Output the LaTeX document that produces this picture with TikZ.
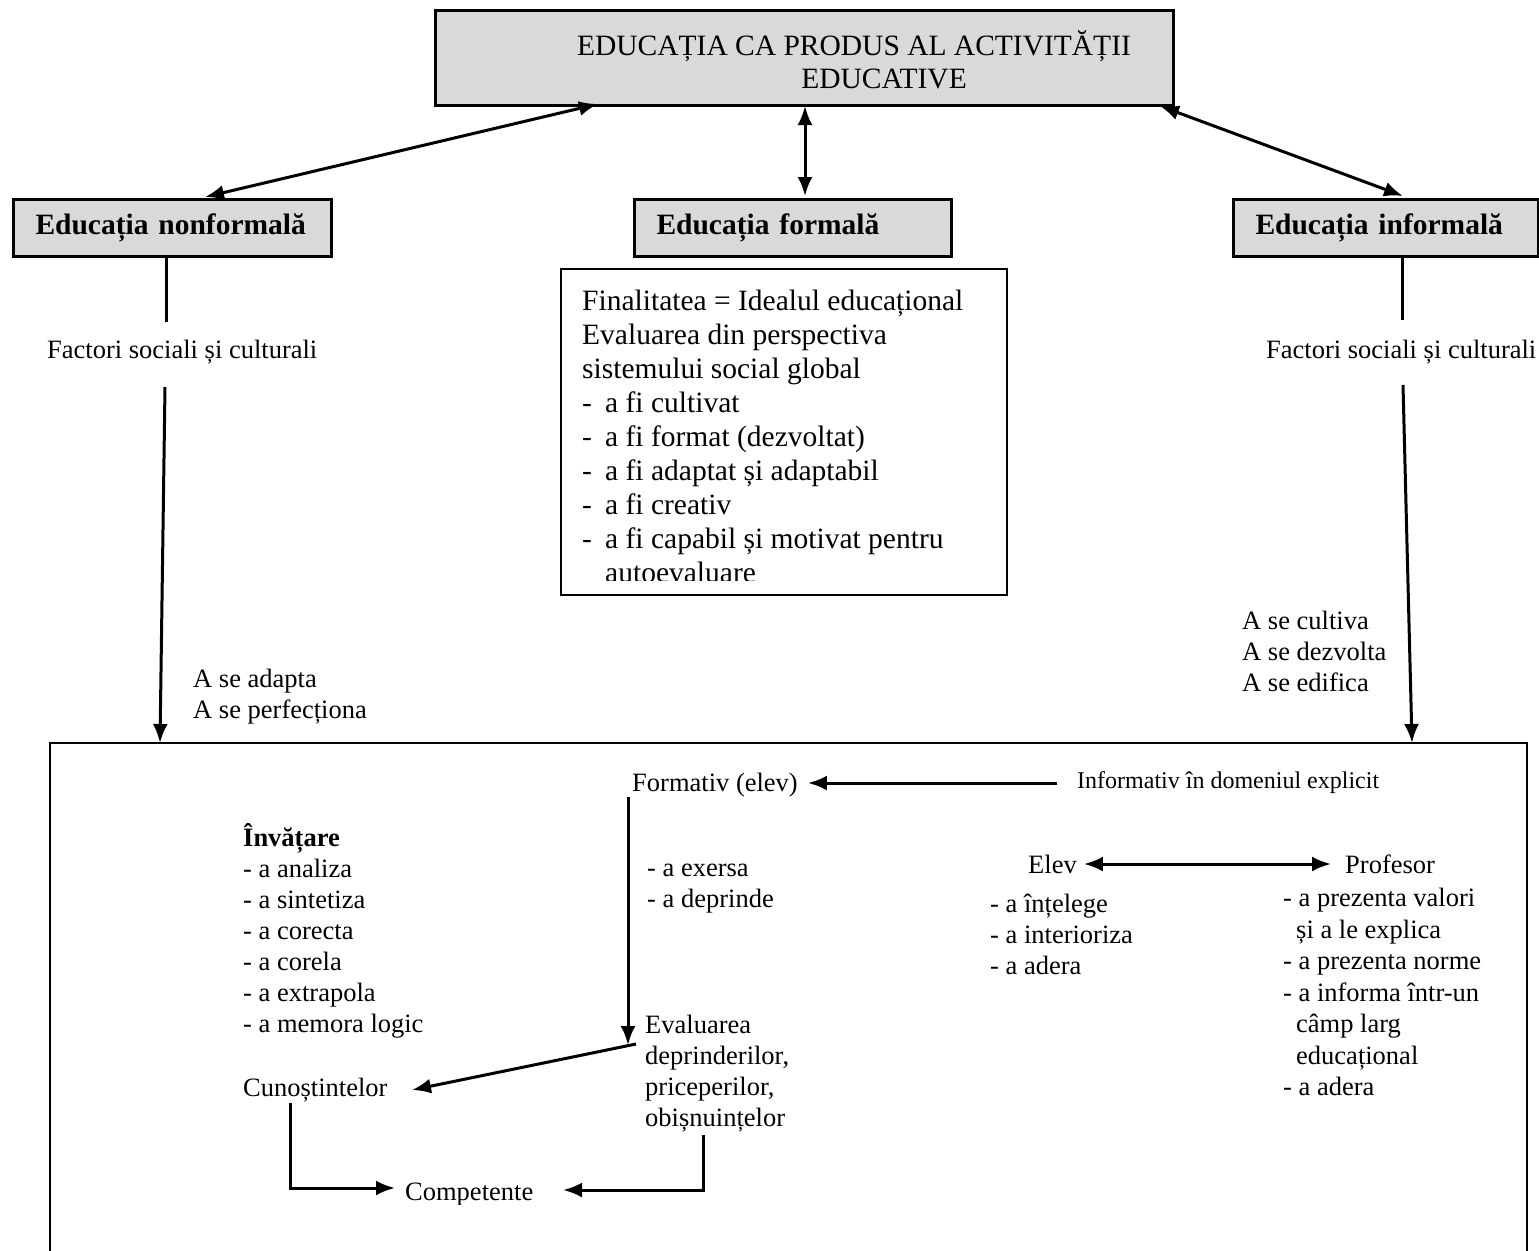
\documentclass[tikz,border=0pt]{standalone}
\usepackage{fontspec}
\setmainfont{Liberation Serif}
\usetikzlibrary{arrows.meta}
\definecolor{boxgray}{HTML}{D9D9D9}
\tikzset{
  frame/.style={draw, line width=3pt, fill=boxgray},
  lab/.style={frame, anchor=north west, minimum height=57pt, inner xsep=22pt,
    inner ysep=0pt, text width=#1, align=left,
    font=\fontsize{29.5}{34}\selectfont\bfseries},
  txt/.style={inner sep=0pt, align=left, font=\fontsize{26.5}{31}\selectfont},
  bigtxt/.style={inner sep=0pt, align=left, font=\fontsize{29.5}{34}\selectfont},
  conn/.style={line width=3pt},
  arr/.style={conn, -{Latex[length=19pt,width=15pt]}},
  darr/.style={conn, {Latex[length=19pt,width=15pt]}-{Latex[length=19pt,width=15pt]}},
}
\begin{document}
\begin{tikzpicture}[x=1pt,y=-1pt]
\useasboundingbox (0,0) rectangle (1539,1250);

% title
\node[frame, minimum width=738pt, minimum height=95pt] (title) at (804,57.5) {};
\node[inner sep=0pt, align=center, font=\fontsize{29.5}{33}\selectfont] (titletext) at (854,60)
  {EDUCAȚIA CA PRODUS AL ACTIVITĂȚII\\\hspace*{60pt}EDUCATIVE};

% three kinds of education
\node[lab=274pt] (nonf) at (12,198) {Educația nonformală};
\node[lab=273pt] (form) at (633,198) {Educația formală};
\node[lab=261pt] (inf) at (1232,198) {Educația informală};

\coordinate (tA) at (598,104);
\coordinate (tB) at (805,106);
\coordinate (tC) at (1160,106);
\coordinate (nA) at (205,197);
\coordinate (fA) at (805,196);
\coordinate (iA) at (1403,196);
\draw[darr] (nA) -- (tA);
\draw[darr] (fA) -- (tB);
\draw[darr] (iA) -- (tC);

% formal education: the goal box
\node[draw, line width=2pt, anchor=north west, minimum width=446pt, minimum height=326pt] (finbox) at (560,268) {};
\begin{scope}
\clip (560,268) rectangle (1006,580);
\node[bigtxt, anchor=north west] (fintext) at (582,290)
  {Finalitatea = Idealul educațional\\
   Evaluarea din perspectiva\\
   sistemului social global\\
   \makebox[23pt][l]{-}a fi cultivat\\
   \makebox[23pt][l]{-}a fi format (dezvoltat)\\
   \makebox[23pt][l]{-}a fi adaptat și adaptabil\\
   \makebox[23pt][l]{-}a fi creativ\\
   \makebox[23pt][l]{-}a fi capabil și motivat pentru\\
   \hspace*{23pt}autoevaluare};
\end{scope}

% side branches
\node[txt, anchor=west] (fsL) at (47,352) {Factori sociali și culturali};
\node[txt, anchor=west] (fsR) at (1266,352) {Factori sociali și culturali};
\node[txt, anchor=north west] (adapt) at (193,669) {A se adapta\\A se perfecționa};
\node[txt, anchor=north west] (cult) at (1242,611) {A se cultiva\\A se dezvolta\\A se edifica};

\coordinate (nl) at (166,322);
\coordinate (il) at (1402,320);
\draw[conn] (nl |- nonf.south) -- (nl);
\draw[conn] (il |- inf.south) -- (il);

% outcome frame
\coordinate (bTL) at (50,743);
\coordinate (bTR) at (1527,743);
\draw[line width=2pt] (50,1262) -- (bTL) -- (bTR) -- (1527,1262);

\coordinate (nb) at (165,387);
\coordinate (nt) at (160,743);
\coordinate (ib) at (1403,385);
\coordinate (it) at (1412,743);
\draw[arr] (nb) -- (nt);
\draw[arr] (ib) -- (it);

% inside the frame
\node[txt, anchor=west] (formv) at (632,785) {Formativ (elev)};
\node[txt, anchor=west, font=\fontsize{24}{28}\selectfont] (inform) at (1077,783) {Informativ în domeniul explicit};
\draw[arr] ([xshift=-20pt]inform.west) -- ([xshift=10pt]formv.east |- inform.west);

\node[txt, anchor=north west] (invat) at (243,823)
  {\textbf{Învățare}\\
   - a analiza\\
   - a sintetiza\\
   - a corecta\\
   - a corela\\
   - a extrapola\\
   - a memora logic};

\node[txt, anchor=north west] (exer) at (647,864) {- a exersa\\- a deprinde};
\node[txt, anchor=north west] (evalp) at (645,1015)
  {Evaluarea\\deprinderilor,\\priceperilor,\\obișnuințelor};
\node[txt, anchor=west] (cuno) at (243,1090) {Cunoștintelor};
\begin{scope}
\clip (380,1170) rectangle (560,1204);
\node[txt, anchor=west] (comp) at (405,1195) {Competente};
\end{scope}

\coordinate (v1) at (628,797);
\coordinate (v2) at (628,1045);
\draw[arr] (v1) -- (v2);
\coordinate (d1) at (636,1044);
\coordinate (d2) at (412,1090);
\draw[arr] (d1) -- (d2);
\coordinate (c1) at (290,1103);
\coordinate (c2) at (395,1188);
\draw[arr] (c1) |- (c2);
\coordinate (e1) at (703,1135);
\coordinate (e2) at (563,1190);
\draw[arr] (e1) |- (e2);

\node[txt, anchor=west] (elev) at (1028,864) {Elev};
\node[txt, anchor=west] (prof) at (1345,864) {Profesor};
\draw[darr] ([xshift=7pt]elev.east) -- ([xshift=-14pt]prof.west);

\node[txt, anchor=north west] (elevl) at (990,894)
  {- a înțelege\\- a interioriza\\- a adera};
\node[txt, anchor=north west, font=\fontsize{26.5}{31.5}\selectfont] (profl) at (1283,888)
  {- a prezenta valori\\
   \hspace*{13pt}și a le explica\\
   - a prezenta norme\\
   - a informa într-un\\
   \hspace*{13pt}câmp larg\\
   \hspace*{13pt}educațional\\
   - a adera};
\end{tikzpicture}
\end{document}
